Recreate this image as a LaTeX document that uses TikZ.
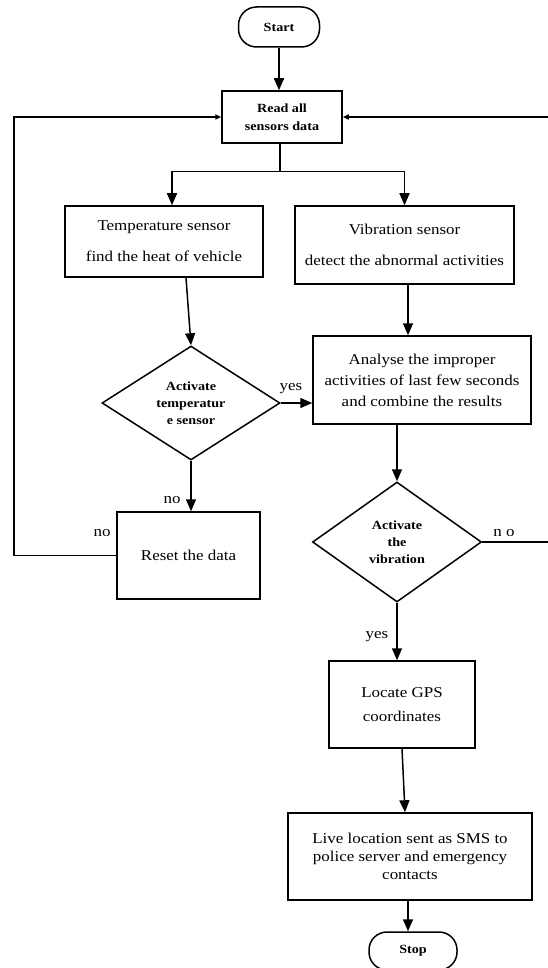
\documentclass[tikz,border=0pt]{standalone}
\usepackage{fontspec}
\setmainfont{Liberation Serif}[FakeStretch=1.13]
\usetikzlibrary{shapes.geometric,arrows.meta,calc}

\begin{document}
\begin{tikzpicture}[x=1pt, y=-1pt, line width=1.5pt,
  txt/.style={font=\fontsize{15}{18}\selectfont},
  smalltxt/.style={font=\bfseries\fontsize{12.5}{15}\selectfont},
  procbox/.style={draw, txt, align=center, inner sep=0pt},
  termbox/.style={draw, smalltxt, rounded corners=18pt, inner sep=0pt},
  decbox/.style={draw, diamond, aspect=1.56, smalltxt, align=center, inner sep=0pt},
  flow/.style={-{Triangle[length=12pt,width=10pt]}},
  backflow/.style={-{Triangle[length=6pt,width=5pt]}}]
  \useasboundingbox (0,0) rectangle (547,968);

  % terminals
  \node[termbox, minimum width=81, minimum height=40] (start) at (279,27) {Start};
  \node[termbox, minimum width=88, minimum height=38] (stop) at (413,951) {Stop};

  % process boxes
  \node[procbox, smalltxt, minimum width=120, minimum height=52] (read) at (282,117)
    {Read all\\[3pt]sensors data};
  \node[procbox, minimum width=198, minimum height=71] (temp) at (164,241.5)
    {Temperature sensor\\[13pt]find the heat of vehicle};
  \node[procbox, minimum width=219, minimum height=78] (vib) at (404.5,245)
    {Vibration sensor\\[13pt]detect the abnormal activities};
  \node[procbox, minimum width=218, minimum height=88] (analyse) at (422,380)
    {Analyse the improper\\[3pt]activities of last few seconds\\[3pt]and combine the results};
  \node[procbox, minimum width=143, minimum height=87] (reset) at (188.5,555.5)
    {Reset the data};
  \node[procbox, minimum width=146, minimum height=87] (gps) at (402,704.5)
    {Locate GPS\\[6pt]coordinates};
  \node[procbox, minimum width=244, minimum height=87] (live) at (410,856.5)
    {Live location sent as SMS to\\police server and emergency\\contacts};

  % decisions
  \node[decbox, minimum width=178, minimum height=114] (dtemp) at (191,403)
    {Activate\\[2pt]temperatur\\[2pt]e sensor};
  \node[decbox, minimum width=169, minimum height=120] (dvib) at (397,542)
    {Activate\\[2pt]the\\[2pt]vibration};

  % split below the read box
  \coordinate (split) at ($(read.south)+(-2,28)$);
  \draw (read.south -| split) -- (split);
  \draw[flow] (split) -| ([xshift=8]temp.north);
  \draw[flow] (split) -| (vib.north);

  \draw[flow] (start.south -| 279,0) -- (read.north -| 279,0);
  \draw[flow] ([xshift=22]temp.south) -- (dtemp.north);
  \draw[flow] ([xshift=3.5]vib.south) -- (analyse.north -| 408,0);
  \draw[flow] (dtemp.east) -- (dtemp.east -| analyse.west);
  \draw[flow] (dtemp.south) -- (dtemp.south |- reset.north);
  \draw[flow] (analyse.south -| dvib.north) -- (dvib.north);
  \draw[flow] (dvib.south) -- (dvib.south |- gps.north);
  \draw[flow] (gps.south) -- ([xshift=-5]live.north);
  \draw[flow] ([xshift=-2]live.south) -- ([xshift=-5]stop.north);

  % loops back to the read box
  \draw[backflow] (reset.west) -- (14,555.5) -- (14,117) -- (read.west);
  \draw[backflow] (dvib.east) -- (549,542) -- (549,117) -- (read.east);

  % branch labels
  \node[txt] (yestemp) at (291,389) {yes};
  \node[txt] (notemp) at (172,500) {no};
  \node[txt] (noreset) at (102,533) {no};
  \node[txt] (novib) at (504,533) {n o};
  \node[txt] (yesvib) at (377,637) {yes};
\end{tikzpicture}
\end{document}
